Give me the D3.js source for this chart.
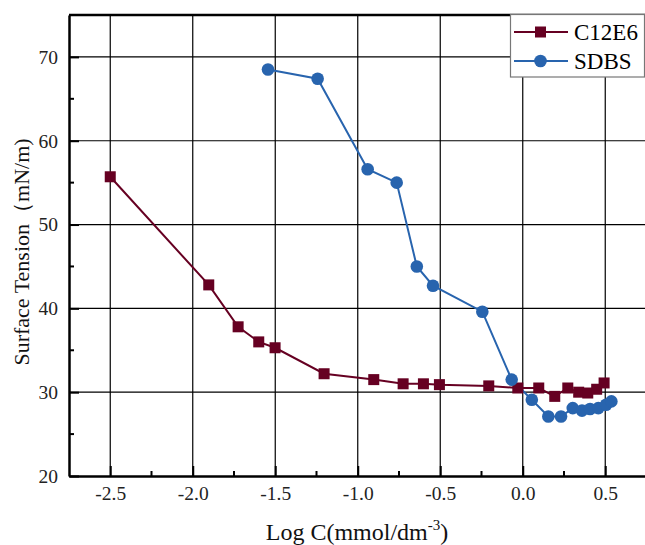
<!DOCTYPE html>
<html><head><meta charset="utf-8">
<script src="https://cdn.jsdelivr.net/npm/d3@7"></script>
<style>body{margin:0;background:#fff;} svg{display:block;} text{font-family:'Liberation Serif','Times New Roman',serif;}</style>
</head><body>
<svg id="chart" width="645" height="545"></svg>
<script>
const c12x = [-2.5,-1.903,-1.725,-1.6,-1.501,-1.204,-0.903,-0.725,-0.602,-0.505,-0.206,-0.03,0.097,0.194,0.273,0.339,0.394,0.448,0.493];
const c12y = [55.7,42.8,37.8,36.0,35.3,32.2,31.5,31.0,31.0,30.9,30.75,30.5,30.5,29.5,30.5,30.0,29.9,30.35,31.1];
const sdbsx = [-1.544,-1.243,-0.94,-0.764,-0.642,-0.544,-0.245,-0.067,0.055,0.155,0.232,0.303,0.359,0.408,0.458,0.505,0.537];
const sdbsy = [68.5,67.4,56.6,55.0,45.0,42.7,39.6,31.5,29.1,27.1,27.1,28.1,27.8,28.0,28.1,28.5,28.9];
const xTicks = [-2.5,-2.0,-1.5,-1.0,-0.5,0.0,0.5];
const yTicks = [20,30,40,50,60,70];
const seriesNames = ["C12E6","SDBS"];
const colors = ["#660022","#2864ae"];

const svg = d3.select("#chart");
const L=69, R=646.5, T=15, B=476;
const x = d3.scaleLinear().domain([-2.75,0.75]).range([L,R]);
const y = d3.scaleLinear().domain([20,75]).range([B,T]);
const font = "'Liberation Serif','Times New Roman',serif";

// grid
const g = svg.append("g");
g.selectAll(".vg").data(xTicks).join("line")
  .attr("x1",d=>x(d)).attr("x2",d=>x(d)).attr("y1",T).attr("y2",B)
  .attr("stroke","#000").attr("stroke-width",1.2);
g.selectAll(".hg").data(yTicks.slice(1)).join("line")
  .attr("x1",L).attr("x2",R).attr("y1",d=>y(d)).attr("y2",d=>y(d))
  .attr("stroke","#000").attr("stroke-width",1.2);

// axes
const fmt = d=>d3.format(".1f")(d).replace("\u2212","-");
const xAxis = d3.axisBottom(x).tickValues(xTicks).tickFormat(fmt).tickSizeInner(-10).tickSizeOuter(0);
const xa = svg.append("g").attr("transform",`translate(0,${B})`).call(xAxis);
const yAxis = d3.axisLeft(y).tickValues(yTicks).tickFormat(d3.format("d")).tickSizeInner(-10).tickSizeOuter(0);
const ya = svg.append("g").attr("transform",`translate(${L},0)`).call(yAxis);
[xa,ya].forEach(a=>{
  a.attr("font-family",null);
  a.select(".domain").attr("stroke","#000").attr("stroke-width",2.5);
  a.selectAll(".tick line").attr("stroke","#000").attr("stroke-width",2);
  a.selectAll(".tick text").style("font-family",font).style("font-size","19.5px").attr("fill","#222");
});
xa.selectAll(".tick text").attr("y",24).attr("dy",0);
ya.selectAll(".tick text").attr("x",-11).attr("dy","0.33em");
// minor ticks
const xMinor = [-2.25,-1.75,-1.25,-0.75,-0.25,0.25];
svg.selectAll(".xm").data(xMinor).join("line")
  .attr("x1",d=>x(d)).attr("x2",d=>x(d)).attr("y1",B).attr("y2",B-5)
  .attr("stroke","#000").attr("stroke-width",2);
const yMinor = [25,35,45,55,65];
svg.selectAll(".ym").data(yMinor).join("line")
  .attr("x1",L).attr("x2",L+5).attr("y1",d=>y(d)).attr("y2",d=>y(d))
  .attr("stroke","#000").attr("stroke-width",2);
// top border
svg.append("line").attr("x1",L).attr("x2",R).attr("y1",T).attr("y2",T).attr("stroke","#000").attr("stroke-width",2.5);

// series
const line = d3.line().x(d=>x(d[0])).y(d=>y(d[1]));
const c12 = c12x.map((v,i)=>[v,c12y[i]]);
const sd = sdbsx.map((v,i)=>[v,sdbsy[i]]);
svg.append("path").datum(c12).attr("d",line).attr("fill","none").attr("stroke",colors[0]).attr("stroke-width",2);
svg.append("path").datum(sd).attr("d",line).attr("fill","none").attr("stroke",colors[1]).attr("stroke-width",2);
svg.selectAll(".sq").data(c12).join("rect")
  .attr("x",d=>x(d[0])-5.5).attr("y",d=>y(d[1])-5.5).attr("width",11).attr("height",11).attr("fill",colors[0]);
svg.selectAll(".ci").data(sd).join("circle")
  .attr("cx",d=>x(d[0])).attr("cy",d=>y(d[1])).attr("r",6.3).attr("fill",colors[1]);

// legend
const lg = svg.append("g");
lg.append("rect").attr("x",510.5).attr("y",14.5).attr("width",134).attr("height",62.5).attr("fill","#fff").attr("stroke","#777").attr("stroke-width",1.2);
const ly = [32,61];
seriesNames.forEach((n,i)=>{
  lg.append("line").attr("x1",514).attr("x2",568).attr("y1",ly[i]).attr("y2",ly[i]).attr("stroke",colors[i]).attr("stroke-width",2);
  if(i===0) lg.append("rect").attr("x",535).attr("y",ly[i]-5.5).attr("width",11).attr("height",11).attr("fill",colors[i]);
  else lg.append("circle").attr("cx",540.5).attr("cy",ly[i]).attr("r",6.3).attr("fill",colors[i]);
  lg.append("text").attr("x",574).attr("y",ly[i]+8).style("font-family",font).style("font-size","23px").attr("fill","#000").text(n);
});

// axis titles
const xt = svg.append("text").attr("x",357).attr("y",540).attr("text-anchor","middle")
  .style("font-family",font).style("font-size","24px").attr("fill","#111");
xt.append("tspan").text("Log C(mmol/dm");
xt.append("tspan").style("font-size","15px").attr("dy",-10).text("-3");
xt.append("tspan").attr("dy",10).text(")");
svg.append("text").attr("transform","translate(29,252) rotate(-90)").attr("text-anchor","middle")
  .style("font-family",font).style("font-size","22px").attr("fill","#111").text("Surface Tension（mN/m)");
</script>
</body></html>
